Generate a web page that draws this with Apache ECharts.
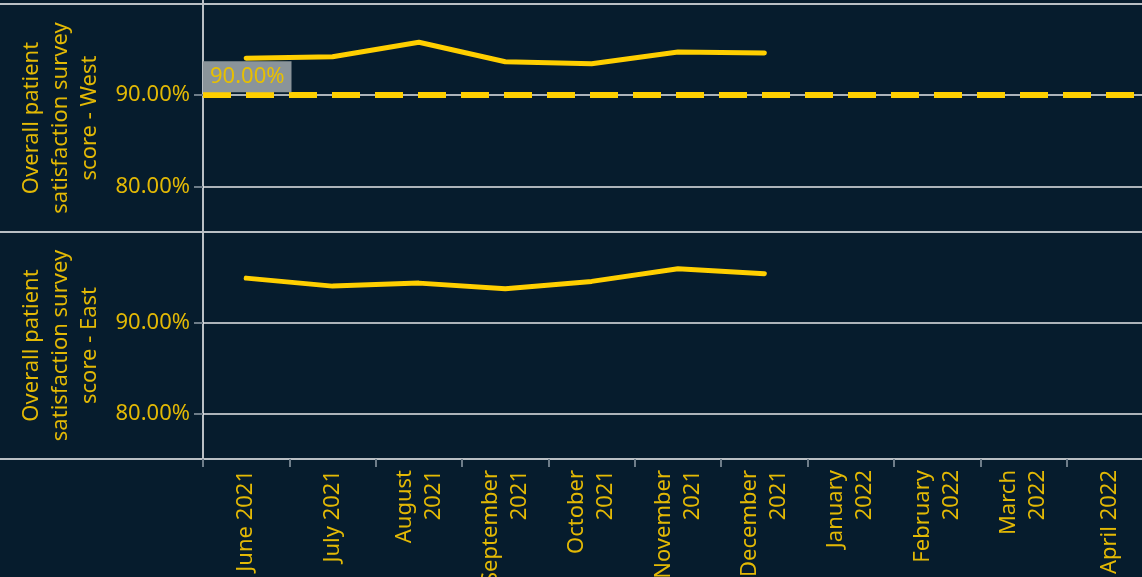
<!DOCTYPE html>
<html><head><meta charset="utf-8">
<script src="https://cdn.jsdelivr.net/npm/echarts@6/dist/echarts.min.js"></script>
<style>html,body{margin:0;padding:0;background:#061c2d;overflow:hidden;}#c{width:1153px;height:577px;}</style>
</head><body><div id="c"></div>
<script>
const months = ['June 2021','July 2021','August\n2021','September\n2021','October\n2021','November\n2021','December\n2021','January\n2022','February\n2022','March\n2022','April 2022'];
const westScores = [94.05, 94.22, 95.80, 93.67, 93.45, 94.74, 94.63];
const eastScores = [94.92, 94.04, 94.37, 93.76, 94.56, 95.96, 95.41];
const yTickValues = [80, 90];
const targetScore = 90;
const westTitle = 'Overall patient\nsatisfaction survey\nscore - West';
const eastTitle = 'Overall patient\nsatisfaction survey\nscore - East';

const BG = '#061c2d', TEXT = '#e3b905', LINE = '#ffcf00', GRID = '#e4e6e8', FRAME = '#b9bfc4', TICK = '#6e7d89';
const FONT = 'Noto Sans';
const FS = 22;
const pct = v => v.toFixed(2) + '%';

function yAxisCfg(gridIndex, title) {
  return {
    type: 'value', gridIndex: gridIndex, min: 75, max: 100,
    name: title, nameLocation: 'middle', nameRotate: 90, nameGap: 99,
    nameTextStyle: { color: TEXT, fontSize: FS, lineHeight: 29, fontFamily: FONT, align: 'center' },
    axisLine: { show: false },
    axisTick: { show: true, length: 9, customValues: yTickValues, lineStyle: { color: TICK, width: 2 } },
    axisLabel: { customValues: yTickValues, color: TEXT, fontSize: FS, margin: 13, fontFamily: FONT, formatter: pct },
    splitLine: { show: false }
  };
}
function gridLines() {
  return yTickValues.map(v => ({ yAxis: v, lineStyle: { color: GRID, width: 1.5, type: 'solid' }, label: { show: false } }));
}

const chart = echarts.init(document.getElementById('c'), null, { renderer: 'canvas' });
chart.setOption({
  backgroundColor: BG,
  animation: false,
  grid: [
    { left: 203, top: 4, right: 0, height: 228, outerBoundsMode: 'none', containLabel: false },
    { left: 203, top: 232, right: 0, height: 227, outerBoundsMode: 'none', containLabel: false }
  ],
  xAxis: [
    { type: 'category', gridIndex: 0, data: months, boundaryGap: true, show: false },
    { type: 'category', gridIndex: 1, data: months, boundaryGap: true,
      axisLine: { show: false },
      axisTick: { show: true, length: 8, lineStyle: { color: TICK, width: 2 } },
      axisLabel: { rotate: 90, interval: 0, color: TEXT, fontSize: FS, lineHeight: 29, margin: 11, fontFamily: FONT } }
  ],
  yAxis: [yAxisCfg(0, westTitle), yAxisCfg(1, eastTitle)],
  series: [
    { type: 'line', xAxisIndex: 0, yAxisIndex: 0, data: westScores, symbol: 'none',
      lineStyle: { color: LINE, width: 5, cap: 'round', join: 'round' },
      markLine: { silent: true, symbol: 'none', animation: false,
        data: gridLines().concat([{
          yAxis: targetScore,
          lineStyle: { color: LINE, width: 6, type: [28, 15] },
          label: { show: true, position: 'insideStartTop', formatter: pct(targetScore), distance: [0, 3],
            color: '#e8c000', fontSize: FS, lineHeight: 22, fontFamily: FONT, backgroundColor: '#8a949a', padding: [5, 7, 4, 7] }
        }]) } },
    { type: 'line', xAxisIndex: 1, yAxisIndex: 1, data: eastScores, symbol: 'none',
      lineStyle: { color: LINE, width: 5, cap: 'round', join: 'round' },
      markLine: { silent: true, symbol: 'none', animation: false, data: gridLines() } }
  ],
  graphic: [
    { type: 'line', silent: true, shape: { x1: 0, y1: 4, x2: 1153, y2: 4 }, style: { stroke: FRAME, lineWidth: 2 } },
    { type: 'line', silent: true, shape: { x1: 0, y1: 232, x2: 1153, y2: 232 }, style: { stroke: FRAME, lineWidth: 2 } },
    { type: 'line', silent: true, shape: { x1: 0, y1: 459, x2: 1153, y2: 459 }, style: { stroke: FRAME, lineWidth: 2 } },
    { type: 'line', silent: true, shape: { x1: 203, y1: 0, x2: 203, y2: 466 }, style: { stroke: FRAME, lineWidth: 2 } }
  ]
});
</script></body></html>
